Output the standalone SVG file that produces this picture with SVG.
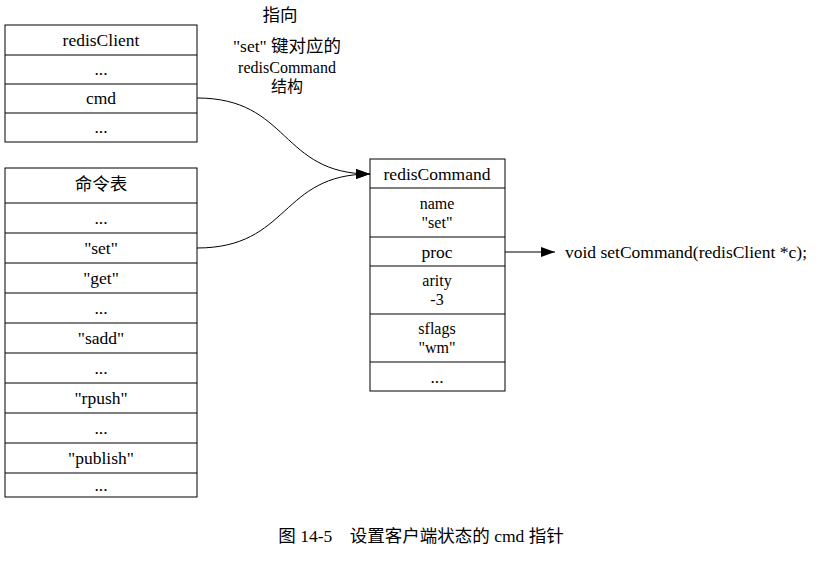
<svg xmlns="http://www.w3.org/2000/svg" width="840" height="562" viewBox="0 0 840 562">
<style>
text{font-family:"Liberation Serif","Noto Sans CJK SC",serif;font-size:17.5px;fill:#000;text-anchor:middle}
.s{font-size:16px}
.b{fill:#fff;stroke:#000;stroke-width:1}
.l{stroke:#000;stroke-width:1}
.c{fill:none;stroke:#000;stroke-width:1}
</style>
<defs><marker id="a" markerWidth="14" markerHeight="10" refX="14" refY="5" orient="auto" markerUnits="userSpaceOnUse"><path d="M0,0L14,5L0,10z"/></marker></defs>
<rect width="840" height="562" fill="#fff"/>
<g id="redisClient">
<rect class="b" x="5" y="25" width="192" height="117"/>
<path class="l" d="M5,55H197M5,84H197M5,113H197"/>
<text x="101" y="46">redisClient</text>
<text x="101" y="75">...</text>
<text x="101" y="104">cmd</text>
<text x="101" y="133">...</text>
</g>
<g id="commandTable">
<rect class="b" x="5" y="168" width="192" height="329"/>
<path class="l" d="M5,203H197M5,233H197M5,263H197M5,293H197M5,323H197M5,353H197M5,383H197M5,413H197M5,443H197M5,473H197"/>
<text x="101" y="190">命令表</text>
<text x="101" y="224">...</text>
<text x="101" y="254">"set"</text>
<text x="101" y="284">"get"</text>
<text x="101" y="314">...</text>
<text x="101" y="344">"sadd"</text>
<text x="101" y="374">...</text>
<text x="101" y="404">"rpush"</text>
<text x="101" y="434">...</text>
<text x="101" y="464">"publish"</text>
<text x="101" y="491">...</text>
</g>
<g id="redisCommand">
<rect class="b" x="370" y="159" width="135" height="232"/>
<path class="l" d="M370,188H505M370,237H505M370,266H505M370,314H505M370,362H505"/>
<text x="437" y="180">redisCommand</text>
<text class="s" x="437" y="209">name</text>
<text class="s" x="437" y="228">"set"</text>
<text x="437" y="258">proc</text>
<text class="s" x="437" y="286">arity</text>
<text class="s" x="437" y="305">-3</text>
<text class="s" x="437" y="334">sflags</text>
<text class="s" x="437" y="353">"wm"</text>
<text x="437" y="383">...</text>
</g>
<g id="setCommand"><text x="565" y="258" style="text-anchor:start">void setCommand(redisClient *c);</text></g>
<g id="label">
<text x="280" y="21">指向</text>
<text x="287" y="52">"set" 键对应的</text>
<text class="s" x="287" y="73">redisCommand</text>
<text class="s" x="287" y="92">结构</text>
</g>
<g id="connectors">
<path class="c" d="M197,98C290,98 280,174 370,174" marker-end="url(#a)"/>
<path class="c" d="M197,248C290,248 280,174 370,174" marker-end="url(#a)"/>
<path class="c" d="M505,252H555" marker-end="url(#a)"/>
</g>
<text x="421" y="542">图 14-5　设置客户端状态的 cmd 指针</text>
</svg>
